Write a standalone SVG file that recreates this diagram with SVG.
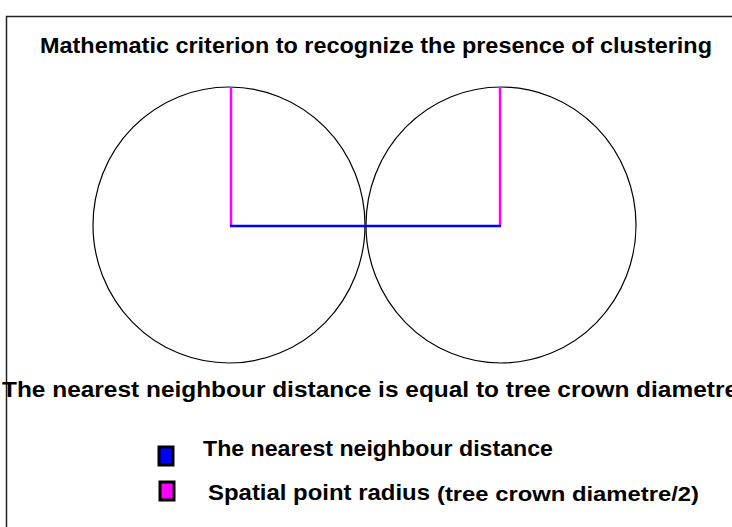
<svg xmlns="http://www.w3.org/2000/svg" width="732" height="527" viewBox="0 0 732 527">
<style>
.t{font-family:"Liberation Sans Narrow","Liberation Sans",Arial,sans-serif;font-weight:bold;fill:#000;}
.circ{fill:none;stroke:#000;stroke-width:1.2;}
.rad{stroke:#ff00ff;stroke-width:2.5;}
.dist{stroke:#0000ff;stroke-width:2.5;}
.sw{stroke:#000;stroke-width:3;}
</style>
<rect width="732" height="527" fill="#fff"/>
<path d="M6.5,527 V16.5 H732" fill="none" stroke="#222" stroke-width="1.5"/>
<text class="t" x="40" y="53" font-size="21.5" textLength="672" lengthAdjust="spacingAndGlyphs">Mathematic criterion to recognize the presence of clustering</text>
<g id="circle-left"><ellipse class="circ" cx="229" cy="225" rx="136" ry="138"/></g>
<g id="circle-right"><ellipse class="circ" cx="501" cy="225" rx="135" ry="138"/></g>
<g id="connectors">
<line class="rad" x1="231" y1="87" x2="231" y2="226"/>
<line class="rad" x1="500" y1="87" x2="500" y2="226"/>
<line class="dist" x1="230" y1="226" x2="501" y2="226"/>
</g>
<text class="t" x="2" y="397" font-size="22" textLength="736" lengthAdjust="spacingAndGlyphs">The nearest neighbour distance is equal to tree crown diametre</text>
<g id="legend-distance">
<rect class="sw" x="159" y="447" width="14" height="18" fill="#0000ff"/>
<text class="t" x="203" y="456" font-size="21.5" textLength="350" lengthAdjust="spacingAndGlyphs">The nearest neighbour distance</text>
</g>
<g id="legend-radius">
<rect class="sw" x="160" y="482" width="14" height="18" fill="#ff00ff"/>
<text class="t" x="208" y="500" font-size="21.5" textLength="222" lengthAdjust="spacingAndGlyphs">Spatial point radius</text>
<text class="t" x="437" y="501" font-size="20" textLength="262" lengthAdjust="spacingAndGlyphs">(tree crown diametre/2)</text>
</g>
</svg>
